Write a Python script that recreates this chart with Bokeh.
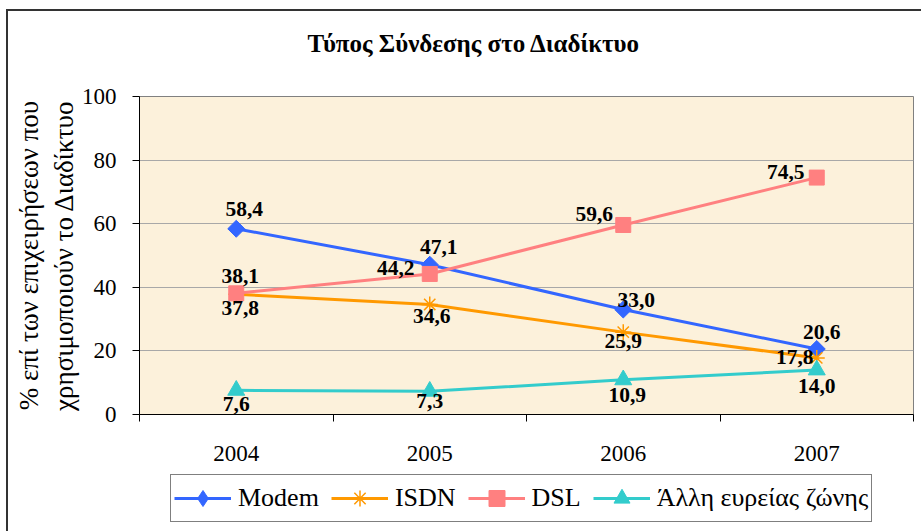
import math
from bokeh.plotting import figure
from bokeh.layouts import column
from bokeh.models import (Range1d, FixedTicker, LinearAxis, Legend, LegendItem,
                          ColumnDataSource)
from bokeh.core.properties import value
from bokeh.embed import file_html
from bokeh.resources import INLINE

# ---------------- data ----------------
years = ["2004", "2005", "2006", "2007"]
modem = [58.4, 47.1, 33.0, 20.6]
isdn = [37.8, 34.6, 25.9, 17.8]
dsl = [38.1, 44.2, 59.6, 74.5]
other = [7.6, 7.3, 10.9, 14.0]
series_names = ["Modem", "ISDN", "DSL", "Άλλη ευρείας ζώνης"]
y_ticks = [0, 20, 40, 60, 80, 100]
title_text = "Τύπος Σύνδεσης στο Διαδίκτυο"
ylabel_line1 = "% επί των επιχειρήσεων που"
ylabel_line2 = "χρησιμοποιούν το Διαδίκτυο"

# ---------------- styles ----------------
FONT = "Liberation Serif"
colors = ["#3366FF", "#FF9900", "#FF8080", "#33CCCC"]
# label pixel offsets (style only)
label_dx = [[8, 9, 13, 5], [4, 2, 0, -22], [4, -34, -29, -31], [0, 0, 4, 0]]
label_dy = [[-20, -18, -10, -17], [14, 12, 9, -1], [-17, -6, -11, -6], [14, 10, 15, 16]]

xs = [i + 0.5 for i in range(len(years))]
boundaries = [float(i) for i in range(len(years) + 1)]
all_vals = [modem, isdn, dsl, other]

W = 913

# ---------------- title strip ----------------
tf = figure(width=W, height=72, output_backend="svg", toolbar_location=None,
            x_axis_type=None, y_axis_type=None, min_border=0)
tf.outline_line_color = None
tf.background_fill_color = "white"
tf.border_fill_color = "white"
tf.title.text = title_text
tf.title.align = "left"
tf.title.offset = 168
tf.title.standoff = 32
tf.title.text_font = FONT
tf.title.text_font_size = "25px"
tf.title.text_font_style = "bold"
tf.title.text_color = "black"

# ---------------- main chart ----------------
p = figure(width=W, height=390, output_backend="svg", toolbar_location=None,
           x_range=Range1d(0, len(years)), y_range=Range1d(y_ticks[0], y_ticks[-1]),
           min_border_left=131, min_border_right=8, min_border_top=13, min_border_bottom=59)
p.background_fill_color = "#FCF1DB"
p.border_fill_color = "white"
p.outline_line_color = "#808080"
p.outline_line_width = 1

p.xgrid.grid_line_color = None
p.ygrid.ticker = FixedTicker(ticks=y_ticks)
p.ygrid.grid_line_color = "#A8A8A8"
p.ygrid.grid_line_width = 1

xa = p.xaxis[0]
xa.ticker = FixedTicker(ticks=xs, minor_ticks=boundaries)
xa.major_label_overrides = {x: y for x, y in zip(xs, years)}
xa.major_tick_out = 0
xa.major_tick_in = 0
xa.minor_tick_out = 7
xa.minor_tick_in = 0
xa.minor_tick_line_color = "black"
xa.axis_line_color = "black"
xa.major_label_text_font = FONT
xa.major_label_text_font_size = "23px"
xa.major_label_text_color = "black"
xa.major_label_standoff = 24

ya = p.yaxis[0]
ya.ticker = FixedTicker(ticks=y_ticks)
ya.minor_tick_line_color = None
ya.major_tick_out = 7
ya.major_tick_in = 0
ya.major_tick_line_color = "black"
ya.axis_line_color = "black"
ya.major_label_text_font = FONT
ya.major_label_text_font_size = "23px"
ya.major_label_text_color = "black"
ya.major_label_standoff = 16
ya.axis_label = ylabel_line2
ya.axis_label_text_font = FONT
ya.axis_label_text_font_size = "27px"
ya.axis_label_text_font_style = "normal"
ya.axis_label_text_color = "black"
ya.axis_label_standoff = 0

ya2 = LinearAxis(ticker=FixedTicker(ticks=[]), axis_label=ylabel_line1)
ya2.axis_line_color = None
ya2.major_tick_line_color = None
ya2.minor_tick_line_color = None
ya2.major_label_text_font_size = "0px"
ya2.axis_label_text_font = FONT
ya2.axis_label_text_font_size = "27px"
ya2.axis_label_text_font_style = "normal"
ya2.axis_label_text_color = "black"
ya2.axis_label_standoff = 2
p.add_layout(ya2, "left")

for k, (vals, col) in enumerate(zip(all_vals, colors)):
    src = ColumnDataSource(dict(x=xs, y=vals))
    p.line("x", "y", source=src, line_color=col, line_width=3)
    if k == 0:
        p.scatter("x", "y", source=src, marker="square", angle=math.pi / 4,
                  size=12, fill_color=col, line_color=col)
    elif k == 1:
        p.scatter("x", "y", source=src, marker="asterisk", size=16, line_color=col, line_width=1.5)
    elif k == 2:
        p.scatter("x", "y", source=src, marker="square", size=15, fill_color=col, line_color=col)
    else:
        p.scatter("x", "y", source=src, marker="triangle", size=17, fill_color=col, line_color=col)

for k, vals in enumerate(all_vals):
    src = ColumnDataSource(dict(x=xs, y=vals,
                                t=[f"{v:.1f}".replace(".", ",") for v in vals],
                                dx=label_dx[k], dy=label_dy[k]))
    p.text("x", "y", text="t", source=src, x_offset="dx", y_offset="dy",
           text_align="center", text_baseline="middle",
           text_font=value(FONT), text_font_size="21.5px", text_font_style="bold",
           text_color="black")

# ---------------- legend strip ----------------
# the strip's view range lies away from the data, so its glyphs only show in the legend
lf = figure(width=W, height=58, output_backend="svg", toolbar_location=None,
            x_axis_type=None, y_axis_type=None, min_border=0,
            x_range=Range1d(-3, -2), y_range=Range1d(-3, -2))
lf.outline_line_color = None
lf.background_fill_color = "white"
lf.border_fill_color = "white"

items = []
legend_markers = ["diamond", "asterisk", "square", "triangle"]
for k, (name, vals, col) in enumerate(zip(series_names, all_vals, colors)):
    src = ColumnDataSource(dict(x=xs, y=vals))
    rs = [lf.line("x", "y", source=src, line_color=col, line_width=3)]
    if k == 1:
        rs.append(lf.scatter("x", "y", source=src, marker="asterisk",
                             line_color=col, line_width=1.5))
    else:
        rs.append(lf.scatter("x", "y", source=src, marker=legend_markers[k],
                             fill_color=col, line_color=col))
    items.append(LegendItem(label=name, renderers=rs))

legend = Legend(items=items, orientation="horizontal", location=(31, 9))
legend.label_text_font = FONT
legend.label_text_font_size = "26px"
legend.label_text_color = "black"
legend.glyph_width = 57
legend.glyph_height = 40
legend.label_standoff = 7
legend.spacing = 12
legend.padding = 3
legend.margin = 0
legend.border_line_color = "black"
legend.border_line_width = 1
legend.background_fill_color = "white"
legend.background_fill_alpha = 1
lf.add_layout(legend)

layout = column(tf, p, lf, spacing=0,
                styles={"margin-left": "6px", "margin-top": "9px",
                        "border-left": "2px solid #333333",
                        "border-top": "2px solid #333333"})

open("out.html", "w").write(file_html(layout, INLINE))
